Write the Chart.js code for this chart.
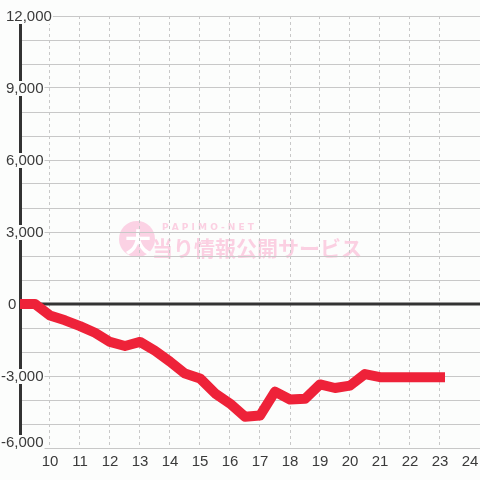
<!DOCTYPE html>
<html>
<head>
<meta charset="utf-8">
<script src="https://cdn.jsdelivr.net/npm/chart.js@4"></script>
<style>
    html, body { margin: 0; padding: 0; background: #fcfdfc; }
    #wrap { width: 480px; height: 480px; position: relative; }
</style>
</head>
<body>
<div id="wrap"><canvas id="chart"></canvas></div>
<script>
// 時刻(時)と差枚
const hours = [9, 9.5, 10, 10.5, 11, 11.5, 12, 12.5, 13, 13.5, 14, 14.5, 15, 15.5, 16, 16.5,
    17, 17.5, 18, 18.5, 19, 19.5, 20, 20.5, 21, 21.5, 22, 22.5, 23];
const values = [0, 0, -480, -680, -920, -1200, -1580, -1750, -1580, -1950, -2400, -2900, -3100, -3720, -4150, -4700,
    -4650, -3650, -3980, -3950, -3350, -3500, -3400, -2920, -3050, -3050, -3050, -3050, -3050];

const yTickLabels = [12000, 9000, 6000, 3000, 0, -3000, -6000];
const xTickLabels = [10, 11, 12, 13, 14, 15, 16, 17, 18, 19, 20, 21, 22, 23, 24];

const labelFont = '15px "Liberation Sans", Arial, sans-serif';
const textColor = '#3a3a3a';

const decor = {
    id: 'decor',
    beforeDraw(chart) {
        const ctx = chart.ctx;
        ctx.save();
        ctx.fillStyle = '#fcfdfc';
        ctx.fillRect(0, 0, chart.width, chart.height);

        // ウォーターマーク
        ctx.fillStyle = '#fbd2e4';
        ctx.beginPath();
        ctx.arc(137, 239, 18, 0, Math.PI * 2);
        ctx.fill();
        ctx.fillStyle = '#ffffff';
        ctx.font = 'bold 26px "Noto Sans CJK JP", sans-serif';
        ctx.textAlign = 'center';
        ctx.textBaseline = 'middle';
        ctx.fillText('大', 138, 242);

        ctx.fillStyle = '#fbd0e2';
        ctx.textAlign = 'left';
        ctx.font = 'bold 9px "DejaVu Sans", sans-serif';
        ctx.fillText('P A P I M O - N E T', 162, 228);
        ctx.font = 'bold 21px "Noto Sans CJK JP", sans-serif';
        ctx.fillText('当り情報公開サービス', 152, 248);
        ctx.restore();
    },
    beforeDatasetsDraw(chart) {
        const { ctx, chartArea: a, scales: { x, y } } = chart;
        ctx.save();
        ctx.strokeStyle = '#333333';
        ctx.lineWidth = 3;

        // 縦軸
        ctx.beginPath();
        ctx.moveTo(a.left + 0.5, a.top);
        ctx.lineTo(a.left + 0.5, a.bottom);
        ctx.stroke();

        // ゼロライン
        const y0 = y.getPixelForValue(0);
        ctx.beginPath();
        ctx.moveTo(a.left, y0);
        ctx.lineTo(a.right, y0);
        ctx.stroke();

        // 縦軸ラベル
        ctx.font = labelFont;
        ctx.textAlign = 'left';
        ctx.textBaseline = 'middle';
        yTickLabels.forEach(v => {
            let py = y.getPixelForValue(v);
            if (py > a.bottom - 2) py -= 6; // 一番下は少し上に
            const text = v.toLocaleString('en-US');
            const w = ctx.measureText(text).width;
            let x0 = v < 0 ? 6 - ctx.measureText('-').width : 6;
            if (v === 0) x0 = 8;
            ctx.fillStyle = '#fcfdfc';
            ctx.fillRect(x0 - 1, py - 7, w + 2, 15);
            ctx.fillStyle = textColor;
            ctx.fillText(text, x0, py + 1);
        });

        // 横軸ラベル
        ctx.textAlign = 'center';
        ctx.textBaseline = 'alphabetic';
        xTickLabels.forEach(h => {
            ctx.fillText(String(h), x.getPixelForValue(h), 466);
        });
        ctx.restore();
    }
};

new Chart(document.getElementById('chart'), {
    type: 'line',
    data: {
        datasets: [{
            data: hours.map((h, i) => ({ x: h, y: values[i] })),
            borderColor: '#ee2239',
            borderWidth: 10,
            borderJoinStyle: 'round',
            borderCapStyle: 'square',
            tension: 0,
            pointRadius: 0,
            fill: false
        }]
    },
    options: {
        responsive: true,
        maintainAspectRatio: false,
        animation: false,
        events: [],
        layout: { padding: { left: 20, top: 16, right: 0, bottom: 32 } },
        plugins: {
            legend: { display: false },
            tooltip: { enabled: false }
        },
        scales: {
            x: {
                type: 'linear',
                min: 9,
                max: 9 + 460 / 30,
                ticks: { display: false, stepSize: 1 },
                grid: { color: '#c8c8c8', lineWidth: 1, drawTicks: false },
                border: { display: false, dash: [3, 3] }
            },
            y: {
                min: -6000,
                max: 12000,
                ticks: { display: false, stepSize: 1000 },
                grid: { color: '#c8c8c8', lineWidth: 1, drawTicks: false },
                border: { display: false }
            }
        }
    },
    plugins: [decor]
});
</script>
</body>
</html>
